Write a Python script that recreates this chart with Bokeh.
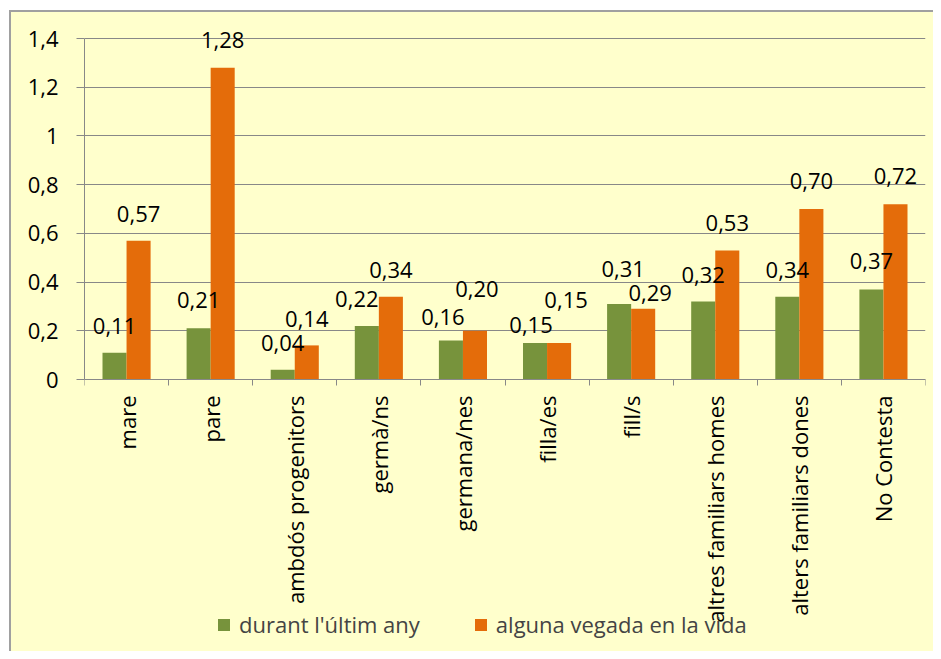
import numpy as np
from bokeh.plotting import figure
from bokeh.models import Range1d, FixedTicker, Legend, LegendItem, ColumnDataSource, LinearAxis
from bokeh.core.properties import value
from bokeh.embed import file_html
from bokeh.resources import INLINE

categories = ["mare", "pare", "ambdós progenitors", "germà/ns", "germana/nes",
              "filla/es", "fill/s", "altres familiars homes", "alters familiars dones",
              "No Contesta"]
series_names = ["durant l'últim any", "alguna vegada en la vida"]
last_year = [0.11, 0.21, 0.04, 0.22, 0.16, 0.15, 0.31, 0.32, 0.34, 0.37]
ever = [0.57, 1.28, 0.14, 0.34, 0.20, 0.15, 0.29, 0.53, 0.70, 0.72]
y_ticks = [0, 0.2, 0.4, 0.6, 0.8, 1, 1.2, 1.4]
y_tick_labels = ["0", "0,2", "0,4", "0,6", "0,8", "1", "1,2", "1,4"]

# label nudges in pixels (horizontal shift, height of baseline above bar top)
last_year_dx = [0, 0, 0, -10, -8, -4, 4, 0, 0, 0]
last_year_rise = [19, 20, 19, 19, 16, 10, 27, 19, 19, 20]
ever_dx = [0, 0, 0, 0, 2, 7, 7, 0, 0, 0]
ever_rise = [19, 20, 18, 19, 34, 35, 8, 19, 20, 20]
LIFT = 8  # extra lift to compensate the renderer's baseline placement

GREEN = "#77933C"
ORANGE = "#E46C0A"
BG = "#FFFFCC"
GRID = "#888888"
FONT = "Open Sans"
FS = "22px"

# layout (pixels)
W, H = 933, 651
TOP, LEFT, RIGHT = 38, 84, 8   # TOP: pixels above value 1.4 (kept inside the frame)
PLOT_H = 341                    # pixels between value 0 and 1.4
Y_MAX = 1.4
below_px = H - TOP - PLOT_H     # room under value 0, inside the frame
y_start = -Y_MAX * below_px / PLOT_H
y_end = Y_MAX + Y_MAX * TOP / PLOT_H

n = len(categories)
centers = np.arange(n) + 0.5
bw = 0.286

def fmt(v):
    return f"{v:.2f}".replace(".", ",")

src1 = ColumnDataSource(dict(x=centers - bw / 2, top=last_year, lab=[fmt(v) for v in last_year],
                             dx=last_year_dx, dy=[-(r + LIFT) for r in last_year_rise]))
src2 = ColumnDataSource(dict(x=centers + bw / 2, top=ever, lab=[fmt(v) for v in ever],
                             dx=ever_dx, dy=[-(r + LIFT) for r in ever_rise]))

p = figure(width=W, height=H, output_backend="svg", toolbar_location=None,
           x_range=Range1d(0, n), y_range=Range1d(y_start, y_end),
           x_axis_location=None,
           min_border_left=LEFT, min_border_top=0, min_border_right=RIGHT, min_border_bottom=0)
p.background_fill_color = None
p.border_fill_color = None
p.outline_line_color = None
p.styles = {"background-color": BG,
            "box-shadow": "inset 9px 10px 0 0 #FFFFFF, inset 11px 12px 0 0 #A0A0A0"}

r1 = p.vbar(x="x", top="top", width=bw, source=src1, fill_color=GREEN, line_color=None)
r2 = p.vbar(x="x", top="top", width=bw, source=src2, fill_color=ORANGE, line_color=None)

for s in (src1, src2):
    p.text(x="x", y="top", text="lab", source=s, text_align="center",
           text_baseline="alphabetic", x_offset="dx", y_offset="dy", text_font=value(FONT),
           text_font_size=FS, text_color="black")

# y axis
p.yaxis.ticker = FixedTicker(ticks=y_ticks)
p.yaxis.bounds = (0, Y_MAX)
p.yaxis.major_label_overrides = {t: l for t, l in zip(y_ticks, y_tick_labels)}
p.yaxis.axis_line_color = GRID
p.yaxis.major_tick_line_color = GRID
p.yaxis.major_tick_out = 8
p.yaxis.major_tick_in = 0
p.yaxis.minor_tick_line_color = None
p.yaxis.major_label_standoff = 18
p.yaxis.major_label_text_font = FONT
p.yaxis.major_label_text_font_size = FS
p.yaxis.major_label_text_color = "black"

# x axis drawn at value 0
xa = LinearAxis(fixed_location=0)
xa.ticker = FixedTicker(ticks=list(centers), minor_ticks=list(range(n + 1)))
xa.major_label_overrides = {float(c): cat for c, cat in zip(centers, categories)}
xa.major_label_orientation = np.pi / 2
xa.major_tick_line_color = None
xa.major_tick_out = 6
xa.minor_tick_line_color = GRID
xa.minor_tick_out = 6
xa.minor_tick_in = 0
xa.axis_line_color = GRID
xa.major_label_standoff = 10
xa.major_label_text_font = FONT
xa.major_label_text_font_size = FS
xa.major_label_text_color = "black"
p.add_layout(xa, "below")

p.xgrid.grid_line_color = None
p.ygrid.ticker = FixedTicker(ticks=y_ticks)
p.ygrid.grid_line_color = GRID

legend = Legend(items=[LegendItem(label=series_names[0], renderers=[r1]),
                       LegendItem(label=series_names[1], renderers=[r2])],
                orientation="horizontal", location=(132, 12),
                background_fill_alpha=0, border_line_color=None,
                label_text_font=FONT, label_text_font_size=FS,
                glyph_width=15, glyph_height=15, label_standoff=8, spacing=53,
                padding=0, margin=0)
p.add_layout(legend, "center")

open("out.html", "w").write(file_html(p, INLINE))
